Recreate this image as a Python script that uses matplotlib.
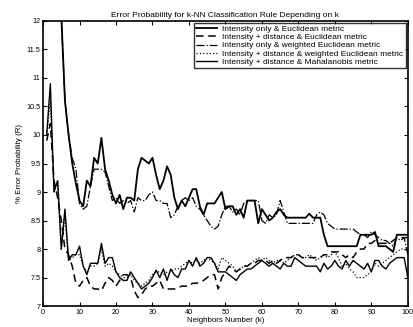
import numpy as np
import matplotlib
matplotlib.use("Agg")
from matplotlib import pyplot as plt

k = np.arange(1, 101)

# Intensity only & Euclidean metric
int_eucl = [15.0, 14.5, 13.5, 12.8, 12.1, 10.6, 10.0, 9.5, 9.15, 8.85,
            8.75, 9.2, 9.1, 9.6, 9.5, 9.95, 9.4, 9.2, 8.95, 8.8,
            8.95, 8.7, 8.9, 8.9, 8.85, 9.4, 9.6, 9.55, 9.5, 9.6,
            9.3, 9.05, 9.2, 9.45, 9.3, 8.9, 8.7, 8.85, 8.75, 8.9,
            9.05, 9.05, 8.75, 8.6, 8.8, 8.8, 8.8, 8.9, 9.0, 8.7,
            8.75, 8.75, 8.6, 8.7, 8.55, 8.85, 8.85, 8.85, 8.45, 8.7,
            8.6, 8.5, 8.55, 8.65, 8.7, 8.6, 8.55, 8.55, 8.55, 8.55,
            8.55, 8.55, 8.62, 8.55, 8.55, 8.55, 8.25, 8.05, 8.05, 8.05,
            8.05, 8.05, 8.05, 8.05, 8.05, 8.05, 8.25, 8.25, 8.25, 8.25,
            8.3, 8.05, 8.05, 8.05, 8.0, 7.95, 8.25, 8.25, 8.25, 8.25]

# Intensity + distance & Euclidean metric
dist_eucl = [9.9, 10.2, 9.2, 8.9, 8.5, 8.0, 7.9, 7.7, 7.4, 7.35,
             7.45, 7.5, 7.35, 7.3, 7.3, 7.27, 7.4, 7.5, 7.45, 7.35,
             7.45, 7.55, 7.55, 7.5, 7.27, 7.15, 7.2, 7.3, 7.35, 7.35,
             7.4, 7.45, 7.3, 7.3, 7.3, 7.3, 7.32, 7.35, 7.35, 7.35,
             7.4, 7.4, 7.42, 7.45, 7.5, 7.55, 7.55, 7.3, 7.5, 7.6,
             7.7, 7.65, 7.6, 7.65, 7.7, 7.7, 7.75, 7.75, 7.8, 7.8,
             7.8, 7.75, 7.8, 7.75, 7.8, 7.85, 7.85, 7.85, 7.9, 7.9,
             7.85, 7.85, 7.85, 7.85, 7.85, 7.85, 7.9, 7.9, 7.95, 7.95,
             7.95, 7.9, 7.85, 7.9, 7.85, 7.95, 8.0, 8.0, 8.1, 8.1,
             8.15, 8.1, 8.1, 8.1, 8.1, 8.15, 8.2, 8.2, 8.2, 8.2]

# Intensity only & weighted Euclidean metric
int_weucl = [15.0, 14.5, 13.5, 12.8, 12.1, 10.6, 10.0, 9.6, 9.4, 8.8,
             8.7, 8.75, 9.1, 9.4, 9.4, 9.4, 9.35, 9.1, 8.85, 8.9,
             8.8, 8.85, 8.8, 8.85, 8.65, 8.9, 8.85, 8.85, 8.95, 9.0,
             8.85, 8.85, 8.8, 8.8, 8.55, 8.6, 8.75, 8.85, 8.9, 8.85,
             8.9, 8.75, 8.7, 8.6, 8.5, 8.4, 8.35, 8.4, 8.6, 8.75,
             8.75, 8.65, 8.7, 8.6, 8.8, 8.85, 8.85, 8.85, 8.85, 8.5,
             8.45, 8.6, 8.55, 8.6, 8.85, 8.65, 8.45, 8.45, 8.45, 8.45,
             8.45, 8.45, 8.45, 8.45, 8.6, 8.65, 8.6, 8.45, 8.4, 8.35,
             8.35, 8.35, 8.35, 8.35, 8.35, 8.3, 8.25, 8.25, 8.2, 8.3,
             8.25, 8.2, 8.15, 8.15, 8.1, 8.05, 8.2, 8.15, 8.2, 7.9]

# Intensity + distance & weighted Euclidean metric
dist_weucl = [10.0, 10.6, 9.0, 9.2, 8.0, 8.6, 7.8, 7.85, 7.9, 7.9,
              7.7, 7.6, 7.7, 7.7, 7.75, 8.0, 7.7, 7.75, 7.7, 7.6,
              7.55, 7.5, 7.5, 7.55, 7.45, 7.4, 7.35, 7.4, 7.45, 7.55,
              7.6, 7.6, 7.55, 7.6, 7.6, 7.65, 7.65, 7.7, 7.75, 7.8,
              7.75, 7.8, 7.75, 7.8, 7.85, 7.8, 7.75, 7.65, 7.85, 7.8,
              7.75, 7.7, 7.6, 7.65, 7.7, 7.7, 7.75, 7.8, 7.85, 7.8,
              7.85, 7.8, 7.75, 7.8, 7.8, 7.75, 7.8, 7.85, 7.9, 7.9,
              7.85, 7.85, 7.9, 7.85, 7.8, 7.85, 7.9, 7.85, 7.9, 7.95,
              7.85, 7.7, 7.75, 7.65, 7.6, 7.5, 7.5, 7.5, 7.55, 7.6,
              7.75, 7.7, 7.75, 7.8, 7.85, 7.9, 7.95, 8.0, 8.0, 7.95]

# Intensity + distance & Mahalanobis metric
dist_mahal = [10.0, 10.9, 9.0, 9.2, 8.0, 8.7, 7.8, 7.9, 7.9, 8.05,
              7.7, 7.55, 7.75, 7.75, 7.75, 8.1, 7.75, 7.85, 7.85, 7.6,
              7.5, 7.45, 7.45, 7.6, 7.5, 7.4, 7.3, 7.35, 7.4, 7.5,
              7.63, 7.5, 7.65, 7.45, 7.65, 7.55, 7.5, 7.65, 7.65, 7.8,
              7.7, 7.85, 7.7, 7.75, 7.85, 7.85, 7.75, 7.6, 7.6, 7.6,
              7.55, 7.5, 7.45, 7.55, 7.6, 7.65, 7.65, 7.7, 7.75, 7.8,
              7.75, 7.7, 7.75, 7.7, 7.65, 7.75, 7.7, 7.7, 7.85, 7.8,
              7.75, 7.7, 7.7, 7.7, 7.7, 7.6, 7.75, 7.65, 7.7, 7.8,
              7.7, 7.65, 7.8, 7.7, 7.8, 7.75, 7.7, 7.65, 7.75, 7.6,
              7.8, 7.8, 7.7, 7.65, 7.75, 7.8, 7.85, 7.85, 7.85, 7.5]

labels = ["Intensity only & Euclidean metric",
          "Intensity + distance & Euclidean metric",
          "Intensity only & weighted Euclidean metric",
          "Intensity + distance & weighted Euclidean metric",
          "Intensity + distance & Mahalanobis metric"]

plt.rcParams['font.family'] = ['Liberation Sans', 'DejaVu Sans']

fig = plt.figure(figsize=(4.14, 3.27), dpi=100)
ax = fig.add_axes([0.104, 0.064, 0.881, 0.872])

ax.plot(k, int_eucl, 'k-', lw=1.3, label=labels[0])
ax.plot(k, dist_eucl, 'k--', lw=1.1, dashes=(5, 3), label=labels[1])
ax.plot(k, int_weucl, 'k-.', lw=0.9, label=labels[2])
ax.plot(k, dist_weucl, 'k:', lw=0.9, label=labels[3])
ax.plot(k, dist_mahal, 'k-', lw=1.0, label=labels[4])

ax.set_xlim(0, 100)
ax.set_ylim(7, 12)
ax.set_xticks(np.arange(0, 101, 10))
ax.set_yticks(np.arange(7, 12.01, 0.5))
ax.set_yticklabels(["7", "7.5", "8", "8.5", "9", "9.5", "10", "10.5",
                    "11", "11.5", "12"])
ax.tick_params(direction='in', top=True, right=True, labelsize=5.2,
               length=3, width=0.8, pad=2)
for s in ax.spines.values():
    s.set_linewidth(1.2)

ax.set_title("Error Probability for k-NN Classification Rule Depending on k",
             fontsize=6, pad=3)
ax.set_xlabel("Neighbors Number (k)", fontsize=5.7, labelpad=1)
ax.set_ylabel("% Error Probability (R)", fontsize=5.7, labelpad=2)

leg = ax.legend(loc='upper right', fontsize=6, frameon=True, fancybox=False,
                edgecolor='black', borderpad=0.25, labelspacing=0.05,
                handlelength=2.6, handletextpad=0.6, borderaxespad=0.25)
leg.get_frame().set_linewidth(1.0)

fig.savefig("out.png", dpi=100)
